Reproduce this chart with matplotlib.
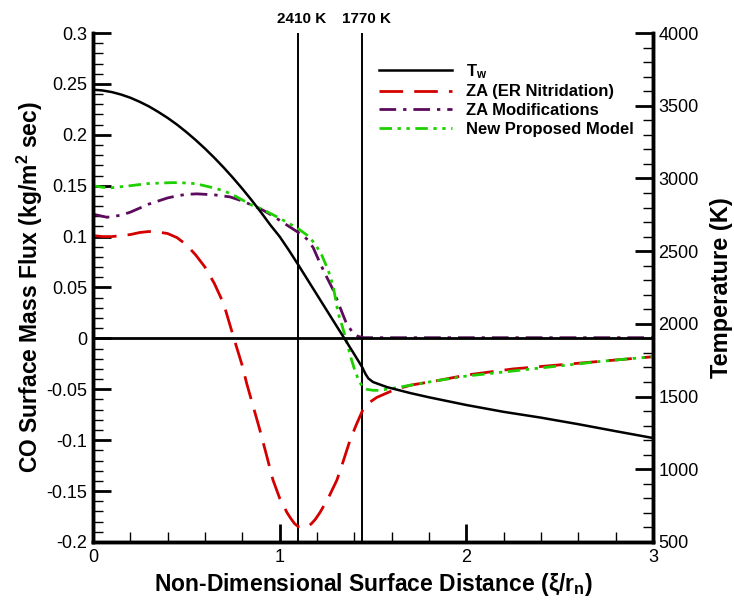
import matplotlib
matplotlib.use("Agg")
import matplotlib.pyplot as plt
from matplotlib.ticker import MultipleLocator, FuncFormatter

plt.rcParams['font.family'] = ['Liberation Sans', 'DejaVu Sans']
plt.rcParams['mathtext.fontset'] = 'custom'
plt.rcParams['mathtext.rm'] = 'Liberation Sans'
plt.rcParams['mathtext.bf'] = 'Liberation Sans:bold'
plt.rcParams['mathtext.it'] = 'Liberation Sans:italic'

# Wall temperature along the surface
tw_x = [0.0, 0.05, 0.1, 0.15, 0.2, 0.25, 0.3, 0.35, 0.4, 0.45, 0.5, 0.55,
        0.6, 0.65, 0.7, 0.75, 0.8, 0.85, 0.9, 0.95, 1.0, 1.05, 1.1, 1.2, 1.3,
        1.35, 1.4, 1.443, 1.46, 1.475, 1.5, 1.575, 1.7, 1.8, 2.0, 2.2, 2.4,
        2.6, 2.8, 3.0]
tw_T = [3610, 3605, 3594, 3577, 3555, 3527, 3495, 3457, 3416, 3370, 3319,
        3264, 3205, 3142, 3075, 3004, 2929, 2850, 2767, 2680, 2600, 2505,
        2405, 2200, 1995, 1893, 1790, 1700, 1655, 1625, 1600, 1565, 1524,
        1495, 1442, 1395, 1355, 1310, 1262, 1215]

# CO surface mass flux, ZA (ER Nitridation)
za_x = [0.0, 0.05, 0.1, 0.15, 0.2, 0.25, 0.3, 0.35, 0.4, 0.45, 0.5, 0.55,
        0.6, 0.65, 0.7, 0.755, 0.8, 0.823, 0.86, 0.894, 0.93, 0.964, 1.0,
        1.039, 1.06, 1.08, 1.1, 1.125, 1.15, 1.17, 1.19, 1.216, 1.26, 1.307,
        1.34, 1.377, 1.41, 1.446, 1.48, 1.52, 1.607, 1.7, 1.859, 2.0, 2.25,
        2.5, 2.75, 3.0]
za_f = [0.101, 0.100, 0.100, 0.101, 0.102, 0.104, 0.105, 0.1045, 0.103,
        0.099, 0.092, 0.082, 0.070, 0.054, 0.034, 0.0, -0.027, -0.044,
        -0.068, -0.090, -0.115, -0.139, -0.157, -0.171, -0.177, -0.182,
        -0.185, -0.186, -0.185, -0.182, -0.178, -0.171, -0.157, -0.139,
        -0.121, -0.100, -0.085, -0.070, -0.063, -0.058, -0.051, -0.046,
        -0.041, -0.036, -0.030, -0.026, -0.022, -0.018]

# ZA Modifications
zm_x = [0.0, 0.075, 0.15, 0.2, 0.25, 0.3, 0.35, 0.4, 0.45, 0.5, 0.557, 0.65,
        0.734, 0.8, 0.85, 0.91, 0.948, 1.0, 1.05, 1.109, 1.15, 1.18, 1.216,
        1.25, 1.287, 1.32, 1.357, 1.39, 1.42, 1.45, 1.6, 2.0, 2.5, 3.0]
zm_f = [0.122, 0.119, 0.121, 0.124, 0.128, 0.132, 0.135, 0.138, 0.140,
        0.1415, 0.142, 0.141, 0.139, 0.135, 0.131, 0.126, 0.122, 0.116,
        0.110, 0.103, 0.097, 0.089, 0.074, 0.061, 0.0475, 0.032, 0.015,
        0.006, 0.002, 0.0007, 0.0007, 0.0007, 0.0007, 0.0007]

# New Proposed Model
nm_x = [0.0, 0.05, 0.1, 0.15, 0.2, 0.289, 0.35, 0.42, 0.466, 0.55, 0.643,
        0.7, 0.75, 0.8, 0.85, 0.905, 0.948, 1.0, 1.05, 1.105, 1.15, 1.189,
        1.225, 1.26, 1.287, 1.313, 1.336, 1.357, 1.38, 1.402, 1.425, 1.446,
        1.467, 1.5, 1.537, 1.607, 1.7, 1.859, 2.0, 2.25, 2.5, 2.75, 3.0]
nm_f = [0.150, 0.1485, 0.148, 0.149, 0.150, 0.152, 0.1525, 0.153, 0.153,
        0.152, 0.148, 0.145, 0.141, 0.136, 0.131, 0.127, 0.123, 0.118, 0.113,
        0.107, 0.101, 0.093, 0.082, 0.067, 0.051, 0.025, 0.0115, -0.0016,
        -0.018, -0.031, -0.042, -0.048, -0.050, -0.051, -0.051, -0.049,
        -0.046, -0.041, -0.037, -0.032, -0.027, -0.022, -0.018]

# Marked wall temperatures
mark_x = [1.097, 1.443]
mark_labels = ["2410 K", "1770 K"]

fig = plt.figure(figsize=(7.34, 6.02), dpi=100)
ax = fig.add_axes([93 / 734, 1 - 542 / 602, 560 / 734, 509 / 602])
ax2 = ax.twinx()

red = '#d40000'
purple = '#5c0a5c'
green = '#1ed000'

ax.axhline(0.0, color='black', lw=2.0, zorder=3)
for xm in mark_x:
    ax.axvline(xm, color='black', lw=1.4, zorder=2)

l_za, = ax.plot(za_x, za_f, color=red, lw=2.0, dashes=(8.5, 4), zorder=4)
l_zm, = ax.plot(zm_x, zm_f, color=purple, lw=2.0,
                dashes=(6, 2.5, 1.2, 2.5), zorder=2.5)
l_nm, = ax.plot(nm_x, nm_f, color=green, lw=2.0,
                dashes=(4.5, 2, 1.2, 2, 1.2, 2), zorder=5)
l_tw, = ax2.plot(tw_x, tw_T, color='black', lw=1.8, zorder=3)

ax.set_xlim(0, 3)
ax.set_ylim(-0.2, 0.3)
ax2.set_ylim(500, 4000)

ax.xaxis.set_major_locator(MultipleLocator(1))
ax.xaxis.set_minor_locator(MultipleLocator(0.2))
ax.yaxis.set_major_locator(MultipleLocator(0.05))
ax.yaxis.set_minor_locator(MultipleLocator(0.01))
ax2.yaxis.set_major_locator(MultipleLocator(500))
ax2.yaxis.set_minor_locator(MultipleLocator(100))
ax.yaxis.set_major_formatter(
    FuncFormatter(lambda v, p: f"{v:g}" if abs(v) > 1e-9 else "0"))

for a in (ax, ax2):
    a.spines['top'].set_visible(False)
    for s in ('left', 'right', 'bottom'):
        a.spines[s].set_linewidth(2.5)

ax.tick_params(axis='both', which='major', direction='in', length=13, width=2,
               labelsize=13, pad=4)
ax.tick_params(axis='both', which='minor', direction='in', length=7, width=1)
ax.tick_params(axis='x', top=False, pad=5)
ax.tick_params(axis='y', right=False)
ax2.tick_params(axis='y', which='major', direction='in', length=13, width=2,
                labelsize=13, pad=4)
ax2.tick_params(axis='y', which='minor', direction='in', length=7, width=1)

ax.set_xlabel("Non-Dimensional Surface Distance (ξ/r$_\\mathbf{n}$)",
              fontsize=16.5, fontweight='bold', labelpad=4)
ax.set_ylabel(r"CO Surface Mass Flux (kg/m$^\mathbf{2}$ sec)",
              fontsize=16.5, fontweight='bold', labelpad=1)
ax2.set_ylabel("Temperature (K)", fontsize=17, fontweight='bold', labelpad=8)

for xm, lab in zip(mark_x, mark_labels):
    ax.text(xm + 0.02, 1.014, lab, transform=ax.get_xaxis_transform(),
            ha='center', va='bottom', fontsize=11, fontweight='bold')

handles = [l_tw, l_za, l_zm, l_nm]
labels = [r"T$_\mathbf{w}$", "ZA (ER Nitridation)", "ZA Modifications",
          "New Proposed Model"]
leg = ax2.legend(handles, labels, loc='upper left',
                 bbox_to_anchor=(0.498, 0.956), frameon=False,
                 handlelength=4.4, handletextpad=0.85, labelspacing=0.22,
                 borderaxespad=0.0,
                 prop={'weight': 'bold', 'size': 12})

fig.savefig("out.png", dpi=100)
